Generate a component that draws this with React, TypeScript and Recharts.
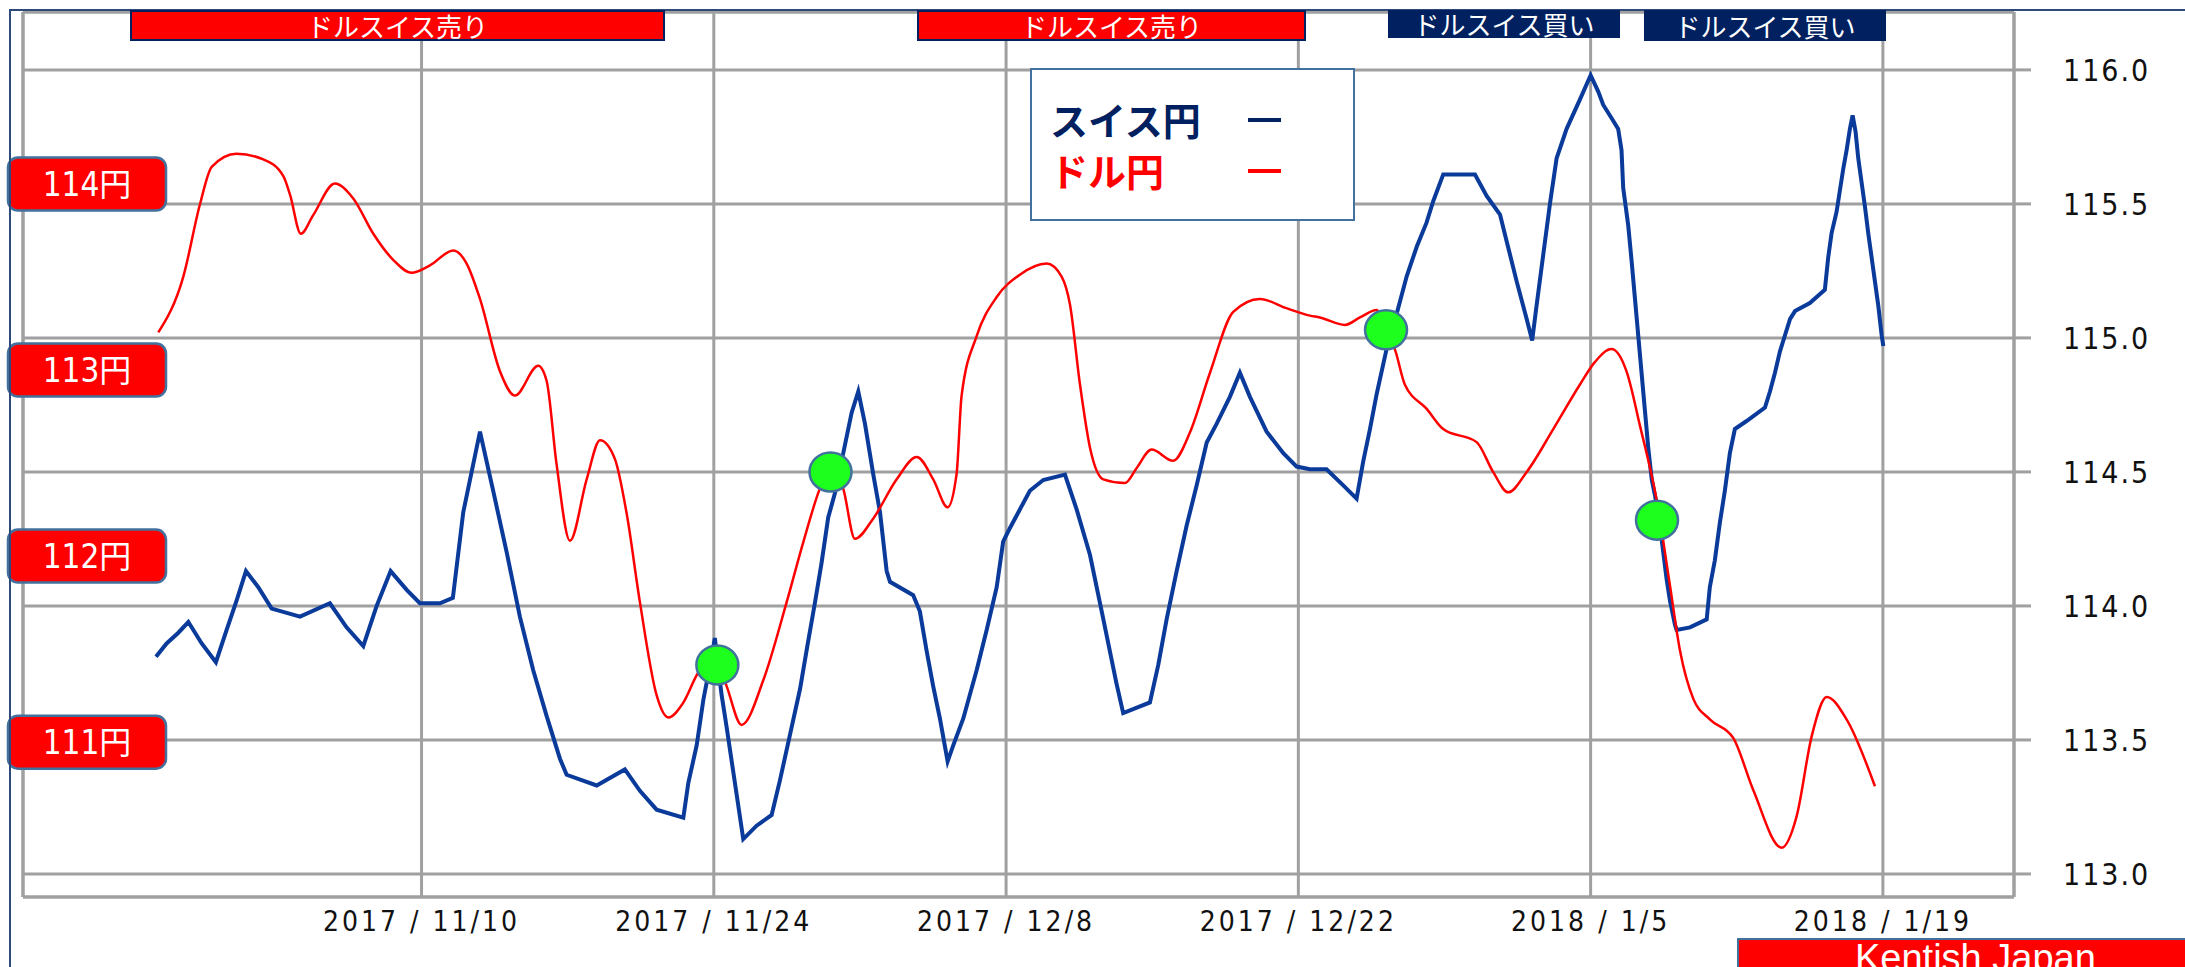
import React from "react";
import {
  ComposedChart,
  Line,
  XAxis,
  YAxis,
  CartesianGrid,
  ReferenceLine,
  ReferenceDot,
} from "recharts";

// x values are days counted from 2017/11/10
const tickDays = [0, 14, 28, 42, 56, 70];
const tickLabels = [
  "2017 / 11/10",
  "2017 / 11/24",
  "2017 / 12/8",
  "2017 / 12/22",
  "2018 / 1/5",
  "2018 / 1/19",
];
const chfTicks = [113, 113.5, 114, 114.5, 115, 115.5, 116];
const yenTicks = [111, 112, 113, 114];

// スイス円 (right axis)
const chfDays = [
  -12.72, -12.21, -11.65, -11.17, -10.53, -9.85, -9.34, -8.86, -8.41, -7.82,
  -7.18, -5.82, -4.39, -3.59, -2.79, -2.15, -1.48, -0.71, -0.08, 0.88, 1.5, 2.0,
  2.8, 3.43, 4.08, 4.71, 5.35, 5.99, 6.63, 6.95, 8.39, 9.74, 10.46, 11.26, 12.54,
  12.78, 13.18, 13.5, 13.82, 14.05, 14.37, 14.61, 15.01, 15.41, 16.05, 16.77,
  17.17, 17.65, 18.13, 18.48, 18.84, 19.16, 19.48, 19.8, 20.28, 20.6, 20.92,
  21.24, 21.64, 21.96, 22.28, 22.44, 23.55, 23.87, 24.2, 24.51, 24.83, 25.2,
  25.47, 25.95, 26.59, 27.07, 27.55, 27.86, 28.18, 28.66, 29.14, 29.78, 30.82,
  31.38, 32.02, 32.66, 33.29, 33.61, 34.89, 35.29, 35.69, 36.17, 36.65, 37.13,
  37.61, 38.09, 38.72, 39.2, 39.68, 40.48, 41.28, 41.92, 42.55, 43.35, 44.15,
  44.79, 45.11, 45.43, 45.75, 46.23, 46.71, 47.19, 47.67, 48.14, 48.46, 48.94,
  50.46, 51.02, 51.66, 51.98, 52.46, 52.94, 53.2, 53.41, 53.73, 54.05, 54.37,
  54.85, 55.49, 56.0, 56.36, 56.6, 57.08, 57.32, 57.48, 57.56, 57.8, 57.96,
  58.12, 58.28, 58.44, 58.6, 58.76, 58.93, 59.09, 59.4, 59.64, 59.8, 60.04,
  60.12, 60.76, 61.56, 61.71, 61.95, 62.19, 62.43, 62.67, 62.91, 63.47, 64.35,
  64.59, 64.83, 65.07, 65.31, 65.55, 65.79, 66.5, 67.22, 67.38, 67.54, 67.78,
  67.94, 68.1, 68.26, 68.42, 68.55, 68.69, 68.82, 68.98, 69.14, 69.3, 69.46,
  69.62, 69.78, 69.94, 70.02,
];
const chfJpy = [
  113.81, 113.86, 113.9, 113.94, 113.86, 113.79, 113.91, 114.02, 114.13, 114.07,
  113.99, 113.96, 114.01, 113.92, 113.85, 114.0, 114.13, 114.06, 114.01, 114.01,
  114.03, 114.35, 114.65, 114.43, 114.2, 113.96, 113.76, 113.59, 113.43, 113.37,
  113.33, 113.39, 113.31, 113.24, 113.21, 113.34, 113.48, 113.65, 113.78, 113.88,
  113.67, 113.55, 113.34, 113.13, 113.18, 113.22, 113.35, 113.52, 113.69, 113.85,
  114.01, 114.16, 114.33, 114.42, 114.6, 114.72, 114.8, 114.68, 114.49, 114.35,
  114.13, 114.09, 114.04, 113.98, 113.83, 113.7, 113.58, 113.42, 113.48, 113.58,
  113.76, 113.91, 114.07, 114.24, 114.29, 114.36, 114.43, 114.47, 114.49, 114.36,
  114.19, 113.95, 113.71, 113.6, 113.64, 113.78, 113.95, 114.13, 114.3, 114.45,
  114.61, 114.68, 114.78, 114.87, 114.78, 114.65, 114.57, 114.52, 114.51, 114.51,
  114.45, 114.4, 114.54, 114.66, 114.79, 114.96, 115.09, 115.23, 115.34, 115.43,
  115.51, 115.61, 115.61, 115.53, 115.46, 115.36, 115.21, 115.07, 114.99, 115.12,
  115.31, 115.5, 115.67, 115.78, 115.89, 115.98, 115.92, 115.87, 115.81, 115.78,
  115.7, 115.56, 115.42, 115.29, 115.15, 115.01, 114.87, 114.73, 114.59, 114.47,
  114.41, 114.25, 114.1, 114.02, 113.93, 113.91, 113.92, 113.95, 114.07, 114.17,
  114.31, 114.43, 114.57, 114.66, 114.69, 114.74, 114.8, 114.87, 114.95, 115.01,
  115.07, 115.1, 115.13, 115.18, 115.3, 115.39, 115.47, 115.55, 115.63, 115.7,
  115.78, 115.83, 115.77, 115.67, 115.58, 115.49, 115.39, 115.3, 115.21, 115.12,
  115.01, 114.97,
];

// ドル円 (left labels)
const usdDays = [
  -12.61, -11.41, -10.61, -10.05, -8.86, -7.58, -6.62, -6.3, -5.78, -5.19, -4.15,
  -3.27, -2.31, -1.36, -0.48, 0.4, 1.52, 2.16, 2.8, 3.76, 4.47, 5.59, 5.99, 6.47,
  7.11, 7.91, 8.55, 9.26, 9.82, 10.46, 11.26, 11.82, 12.54, 13.25, 14.1, 14.61,
  15.33, 16.37, 17.49, 18.28, 19.08, 19.6, 20.2, 20.76, 21.64, 22.76, 23.72,
  24.51, 25.2, 25.63, 25.87, 26.59, 27.55, 28.66, 29.94, 30.66, 31.06, 31.54,
  32.02, 32.66, 33.69, 34.25, 34.97, 36.0, 36.8, 37.76, 38.88, 40.16, 41.43,
  42.55, 43.03, 44.23, 44.95, 45.75, 46.2, 46.62, 47.1, 48.14, 48.94, 50.54,
  51.33, 52.05, 52.94, 54.21, 55.49, 56.2, 57.0, 57.72, 58.36, 59.16, 59.8,
  60.28, 60.92, 61.71, 62.83, 63.79, 65.15, 65.87, 66.59, 67.31, 68.26, 69.62,
];
const usdJpy = [
  113.2, 113.5, 113.89, 114.09, 114.16, 114.13, 114.04, 113.94, 113.73, 113.83,
  114.0, 113.92, 113.73, 113.59, 113.52, 113.56, 113.64, 113.57, 113.38, 112.99,
  112.86, 113.02, 112.94, 112.49, 112.08, 112.41, 112.62, 112.52, 112.23, 111.75,
  111.25, 111.13, 111.21, 111.37, 111.45, 111.3, 111.09, 111.33, 111.75, 112.07,
  112.36, 112.48, 112.36, 112.09, 112.2, 112.41, 112.53, 112.41, 112.26, 112.44,
  112.86, 113.18, 113.39, 113.51, 113.57, 113.5, 113.35, 112.92, 112.58, 112.41,
  112.39, 112.47, 112.57, 112.51, 112.66, 112.98, 113.31, 113.38, 113.33, 113.29,
  113.28, 113.24, 113.28, 113.32, 113.2, 113.11, 112.92, 112.79, 112.68, 112.61,
  112.45, 112.34, 112.45, 112.68, 112.92, 113.04, 113.11, 112.99, 112.7, 112.3,
  111.84, 111.49, 111.23, 111.12, 111.02, 110.74, 110.43, 110.6, 111.03, 111.24,
  111.12, 110.76,
];

// green crossing markers, on the スイス円 scale
const signalDays = [14.17, 19.59, 46.2, 59.18];
const signalChf = [113.78, 114.5, 115.03, 114.32];

const xDomain = [-19.09, 76.28];
const chfDomain = [112.914, 116.216];
const yenDomain = [110.165, 114.922];

const chfData = chfDays.map((t, i) => ({ t, v: chfJpy[i] }));
const usdData = usdDays.map((t, i) => ({ t, r: usdJpy[i] }));

const NAVY = "#002060";
const GRID = "#a0a0a0";
const NARROW = "'DejaVu Sans Condensed', 'DejaVu Sans', sans-serif";
const JP = "'Noto Sans CJK JP', sans-serif";

function YenTick(props: any) {
  const { y, payload } = props;
  return (
    <g>
      <rect
        x={8}
        y={y - 26}
        width={158}
        height={53}
        rx={10}
        fill="#ff0000"
        stroke="#41719c"
        strokeWidth={2.5}
      />
      <text
        x={87}
        y={y + 12}
        textAnchor="middle"
        fill="#fff"
        fontSize={33}
        fontFamily={NARROW}
        style={{ fontStretch: "condensed" }}
      >
        {payload.value}
        <tspan fontFamily={JP} fontSize={32}>
          円
        </tspan>
      </text>
    </g>
  );
}

const banners = [
  { text: "ドルスイス売り", left: 130, width: 535, top: 10, height: 31, bg: "#ff0000" },
  { text: "ドルスイス売り", left: 917, width: 389, top: 10, height: 31, bg: "#ff0000" },
  { text: "ドルスイス買い", left: 1388, width: 232, top: 10, height: 28, bg: NAVY },
  { text: "ドルスイス買い", left: 1644, width: 242, top: 10, height: 31, bg: NAVY },
];

export default function App() {
  return (
    <div
      style={{
        position: "absolute",
        left: 0,
        top: 0,
        width: 2185,
        height: 967,
        background: "#fff",
        overflow: "hidden",
      }}
    >
      <ComposedChart
        width={2185}
        height={967}
        margin={{ top: 12, right: 0, bottom: 0, left: 0 }}
      >
        <CartesianGrid
          yAxisId="right"
          stroke={GRID}
          strokeWidth={3}
          fill="none"
        />
        <XAxis
          type="number"
          dataKey="t"
          domain={xDomain}
          ticks={tickDays}
          allowDataOverflow
          axisLine={false}
          tickLine={false}
          height={70}
          tickMargin={8}
          tickFormatter={(v: number) => tickLabels[tickDays.indexOf(v)]}
          tick={{
            fill: "#111",
            fontSize: 28,
            fontFamily: NARROW,
            letterSpacing: 3,
          }}
        />
        <YAxis
          yAxisId="left"
          orientation="left"
          domain={yenDomain}
          ticks={yenTicks}
          allowDataOverflow
          width={23}
          axisLine={false}
          tickLine={false}
          tick={<YenTick />}
        />
        <YAxis
          yAxisId="right"
          orientation="right"
          domain={chfDomain}
          ticks={chfTicks}
          allowDataOverflow
          width={171}
          axisLine={false}
          tickLine={{ stroke: GRID, strokeWidth: 3 }}
          tickSize={17}
          tickMargin={32}
          tickFormatter={(v: number) => v.toFixed(1)}
          tick={{
            fill: "#111",
            fontSize: 30,
            fontFamily: NARROW,
            letterSpacing: 2,
          }}
        />
        <ReferenceLine yAxisId="right" x={xDomain[0]} stroke={GRID} strokeWidth={3} />
        <ReferenceLine yAxisId="right" x={xDomain[1]} stroke={GRID} strokeWidth={3} />
        <ReferenceLine yAxisId="right" y={chfDomain[0]} stroke={GRID} strokeWidth={3} />
        <ReferenceLine yAxisId="right" y={chfDomain[1]} stroke={GRID} strokeWidth={3} />
        <Line
          yAxisId="right"
          data={chfData}
          dataKey="v"
          type="linear"
          stroke="#0a3a9a"
          strokeWidth={4}
          dot={false}
          activeDot={false}
          isAnimationActive={false}
        />
        <Line
          yAxisId="left"
          data={usdData}
          dataKey="r"
          type="monotone"
          stroke="#ff0000"
          strokeWidth={2.5}
          dot={false}
          activeDot={false}
          isAnimationActive={false}
        />
        {signalDays.map((t, i) => (
          <ReferenceDot
            key={i}
            yAxisId="right"
            x={t}
            y={signalChf[i]}
            r={20}
            shape={(p: any) => (
              <ellipse
                cx={p.cx}
                cy={p.cy}
                rx={21}
                ry={19.5}
                fill="#1dff1d"
                stroke="#41719c"
                strokeWidth={2.5}
              />
            )}
          />
        ))}
      </ComposedChart>

      {/* outer frame lines */}
      <div style={{ position: "absolute", left: 9, top: 9, width: 2185, height: 2, background: "#2e4a7a" }} />
      <div style={{ position: "absolute", left: 9, top: 9, width: 2, height: 967, background: "#2e4a7a" }} />

      {banners.map((b, i) => (
        <div
          key={i}
          style={{
            position: "absolute",
            left: b.left,
            top: b.top,
            width: b.width,
            height: b.height,
            boxSizing: "border-box",
            background: b.bg,
            border: `2.5px solid ${NAVY}`,
            color: "#fff",
            fontFamily: JP,
            fontSize: 26,
            lineHeight: 1,
            display: "flex",
            alignItems: "center",
            justifyContent: "center",
            whiteSpace: "nowrap",
          }}
        >
          {b.text}
        </div>
      ))}

      {/* legend */}
      <div
        style={{
          position: "absolute",
          left: 1030,
          top: 68,
          width: 325,
          height: 153,
          boxSizing: "border-box",
          background: "#fff",
          border: "2.5px solid #41719c",
          fontFamily: JP,
          fontWeight: 700,
          fontSize: 38,
        }}
      >
        <div style={{ position: "absolute", left: 18, top: 26, lineHeight: "46px", color: NAVY }}>
          スイス円
        </div>
        <div style={{ position: "absolute", left: 216, top: 48, width: 33, height: 4, background: NAVY }} />
        <div style={{ position: "absolute", left: 18, top: 77, lineHeight: "46px", color: "#ff0000" }}>
          ドル円
        </div>
        <div style={{ position: "absolute", left: 216, top: 99, width: 33, height: 4, background: "#ff0000" }} />
      </div>

      {/* credit */}
      <div
        style={{
          position: "absolute",
          left: 1737,
          top: 938,
          width: 460,
          height: 40,
          boxSizing: "border-box",
          background: "#ff0000",
          borderTop: "2.5px solid #41719c",
          borderLeft: "2.5px solid #41719c",
          color: "#fff",
          fontFamily: "'Liberation Sans', Arial, sans-serif",
          fontSize: 38,
          lineHeight: "36px",
          paddingLeft: 116,
          whiteSpace: "nowrap",
        }}
      >
        Kentish Japan
      </div>
    </div>
  );
}
